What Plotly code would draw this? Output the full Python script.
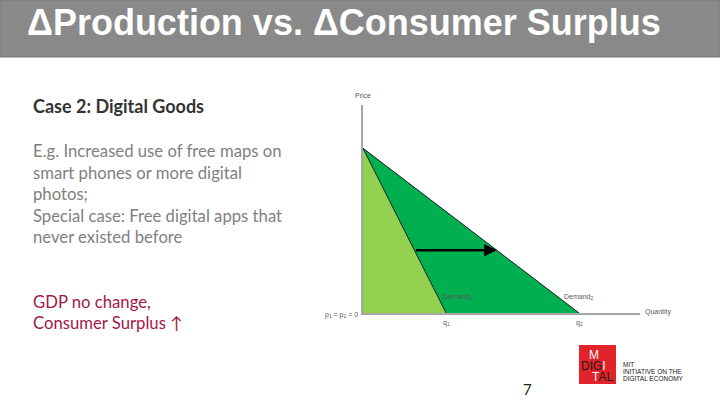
import plotly.graph_objects as go

W, H = 720, 405

# ---- data (economic units, arbitrary scale) ----
choke_price = 8.0      # price intercept shared by both demand curves
q1 = 3.0               # Demand1 quantity at zero price
q2 = 7.8               # Demand2 quantity at zero price
arrow_price = 3.05     # price level of the demand-shift arrow
x_max = 10.0
y_max = 10.1

title_text = "ΔProduction vs. ΔConsumer Surplus"
heading_text = "Case 2: Digital Goods"
body_lines = [
    "E.g. Increased use of free maps on",
    "smart phones or more digital",
    "photos;",
    "Special case: Free digital apps that",
    "never existed before",
]
red_lines = ["GDP no change,", "Consumer Surplus ↑"]
page_number = "7"
logo_lines = ["MIT", "INITIATIVE ON THE", "DIGITAL ECONOMY"]


def px(x):
    return x / W


def py(y):
    return 1 - y / H


fig = go.Figure()

# consumer surplus areas
fig.add_trace(go.Scatter(x=[0, q1, q2, 0], y=[choke_price, 0, 0, choke_price],
                         fill="toself", fillcolor="#00B050", mode="lines",
                         line=dict(width=0), hoverinfo="skip", showlegend=False))
fig.add_trace(go.Scatter(x=[0, 0, q1, 0], y=[choke_price, 0, 0, choke_price],
                         fill="toself", fillcolor="#92D050", mode="lines",
                         line=dict(width=0), hoverinfo="skip", showlegend=False))
# demand curves
fig.add_trace(go.Scatter(x=[0, q1], y=[choke_price, 0], mode="lines",
                         line=dict(color="#1a1a1a", width=1), cliponaxis=False,
                         showlegend=False))
fig.add_trace(go.Scatter(x=[0, q2], y=[choke_price, 0], mode="lines",
                         line=dict(color="#1a1a1a", width=1), cliponaxis=False,
                         showlegend=False))

# shift arrow
fig.add_annotation(x=q2 * (1 - arrow_price / choke_price), y=arrow_price,
                   ax=q1 * (1 - arrow_price / choke_price), ay=arrow_price,
                   xref="x", yref="y", axref="x", ayref="y", text="",
                   showarrow=True, arrowhead=2, arrowsize=1, arrowwidth=2.5,
                   arrowcolor="black")

small = dict(family="Liberation Sans, Arial", size=7, color="#595959")
fig.add_annotation(x=0, y=y_max, xref="x", yref="y", text="Price", showarrow=False,
                   font=small, yshift=10)
fig.add_annotation(x=q1, y=0, xref="x", yref="y", text="Demand<sub>1</sub>",
                   showarrow=False, font=small, xanchor="left", yshift=16, xshift=-5)
fig.add_annotation(x=q2, y=0, xref="x", yref="y", text="Demand<sub>2</sub>",
                   showarrow=False, font=small, xanchor="left", yshift=16, xshift=-17)
fig.add_annotation(x=q1, y=0, xref="x", yref="y", text="q<sub>1</sub>",
                   showarrow=False, font=small, yshift=-10)
fig.add_annotation(x=q2, y=0, xref="x", yref="y", text="q<sub>2</sub>",
                   showarrow=False, font=small, yshift=-10)
fig.add_annotation(x=0, y=0, xref="x", yref="y", text="p<sub>1</sub> = p<sub>2</sub> = 0",
                   showarrow=False, font=small, xanchor="right", xshift=-3, yshift=-2)
fig.add_annotation(x=x_max, y=0, xref="x", yref="y", text="Quantity",
                   showarrow=False, font=small, xanchor="left", xshift=3, yshift=1)

# title bar
fig.add_shape(type="rect", xref="paper", yref="paper", x0=0, x1=1, y0=py(57), y1=1,
              fillcolor="#898989", line=dict(color="#7d7d7d", width=1), layer="below")
fig.add_annotation(x=px(25), y=py(22), xref="paper", yref="paper", text="<b>" + title_text + "</b>",
                   showarrow=False, xanchor="left", yanchor="middle",
                   font=dict(family="Liberation Sans, Arial", size=36, color="white"))

# left text
fig.add_annotation(x=px(31), y=py(106), xref="paper", yref="paper", text="<b>" + heading_text + "</b>",
                   showarrow=False, xanchor="left", yanchor="middle",
                   font=dict(family="Lato, Open Sans", size=18, color="#333333"))
body_y = [151, 173, 194, 216, 237]
for t, yy in zip(body_lines, body_y):
    fig.add_annotation(x=px(31), y=py(yy), xref="paper", yref="paper", text=t,
                       showarrow=False, xanchor="left", yanchor="middle",
                       font=dict(family="Lato, Open Sans", size=16.7, color="#7F7F7F"))
for t, yy in zip(red_lines, [302, 323]):
    fig.add_annotation(x=px(31), y=py(yy), xref="paper", yref="paper", text=t,
                       showarrow=False, xanchor="left", yanchor="middle",
                       font=dict(family="Lato, Open Sans", size=16.7, color="#A3174A"))

fig.add_annotation(x=px(527.5), y=py(389), xref="paper", yref="paper", text=page_number,
                   showarrow=False, xanchor="center", yanchor="middle",
                   font=dict(family="Lato, Open Sans", size=15, color="#222222"))

# logo
fig.add_shape(type="rect", xref="paper", yref="paper", x0=px(579), x1=px(616), y0=py(384), y1=py(345),
              fillcolor="#E2232A", line=dict(width=0))
logo_font = dict(family="Liberation Sans, Arial", size=12, color="#1a1a1a")
W_ = "<span style='color:white'>%s</span>"
for t, xx, yy in [(W_ % "M", 594, 355),
                  ("DIG" + W_ % "I", 593, 366),
                  (W_ % "T" + "AL", 602, 377)]:
    fig.add_annotation(x=px(xx), y=py(yy), xref="paper", yref="paper", text=t, showarrow=False,
                       font=logo_font, yanchor="middle", xanchor="center")
for t, yy in zip(logo_lines, [364, 371, 378]):
    fig.add_annotation(x=px(621), y=py(yy), xref="paper", yref="paper", text=t, showarrow=False,
                       xanchor="left", yanchor="middle",
                       font=dict(family="Liberation Sans, Arial", size=6.5, color="#1a1a1a"))

axis_common = dict(showgrid=False, zeroline=False, showticklabels=False, ticks="",
                   showline=True, linecolor="#A6A6A6", linewidth=1.5, fixedrange=True)
fig.update_layout(
    width=W, height=H, margin=dict(l=0, r=0, t=0, b=0),
    paper_bgcolor="white", plot_bgcolor="white", showlegend=False,
    xaxis=dict(domain=[px(363), px(640)], range=[0, x_max], **axis_common),
    yaxis=dict(domain=[py(313), py(105)], range=[0, y_max], **axis_common),
)

fig.write_html("out.html", config={"displayModeBar": False},
               post_script="document.body.style.margin='0';document.body.style.overflow='hidden';")
